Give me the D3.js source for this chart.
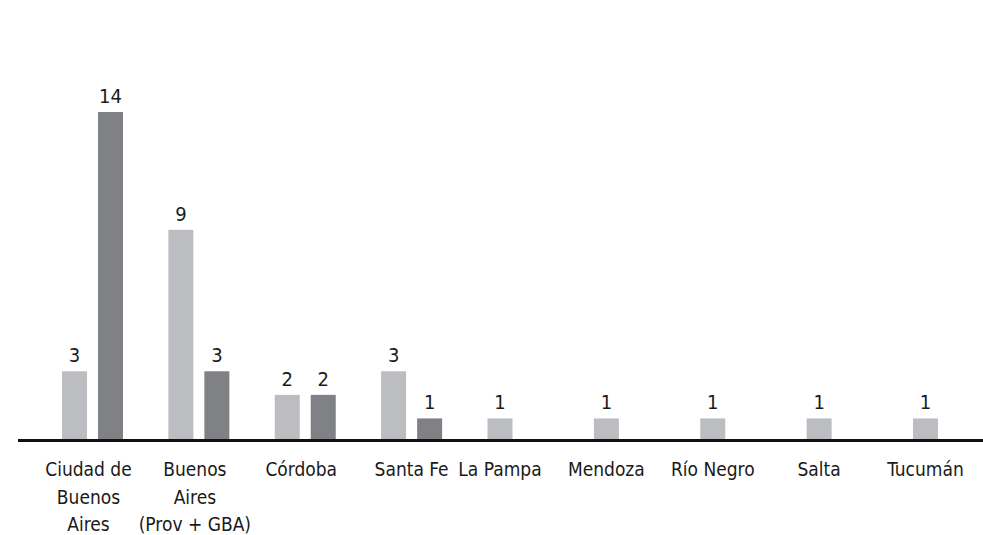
<!DOCTYPE html>
<html>
<head>
<meta charset="utf-8">
<script src="https://cdn.jsdelivr.net/npm/d3@7"></script>
<style>
  body { margin: 0; background: #fff; }
  svg { display: block; }
  text { font-family: "DejaVu Sans Condensed", "DejaVu Sans", sans-serif; font-stretch: condensed; fill: #1a1a1a; }
</style>
</head>
<body>
<svg id="chart" width="983" height="535"></svg>
<script>
// categories (multi-line labels split on "|")
const provincias = ["Ciudad de|Buenos|Aires", "Buenos|Aires|(Prov + GBA)", "Córdoba", "Santa Fe",
  "La Pampa", "Mendoza", "Río Negro", "Salta", "Tucumán"];
const serieClara = [3, 9, 2, 3, 1, 1, 1, 1, 1];
const serieOscura = [14, 3, 2, 1, null, null, null, null, null];
const colores = ["#bcbdc0", "#808184"];

const width = 983, height = 535;
const svg = d3.select("#chart");

const x = d3.scaleBand()
  .domain(d3.range(provincias.length))
  .range([62, 974])
  .paddingInner(0.4267)
  .paddingOuter(0);

const xSub = d3.scaleBand()
  .domain([0, 1])
  .range([0, x.bandwidth()])
  .paddingInner(0.3056);

const y = d3.scaleLinear().domain([0, 14]).range([442, 112]);
const baseY = 440.5;

const rows = provincias.map((p, i) => ({
  i,
  label: p,
  values: [serieClara[i], serieOscura[i]]
}));

const g = svg.append("g");

// bars + value labels
rows.forEach(r => {
  r.values.forEach((v, k) => {
    if (v == null) return;
    const bx = x(r.i) + xSub(k);
    g.append("rect")
      .attr("x", bx)
      .attr("y", y(v))
      .attr("width", xSub.bandwidth())
      .attr("height", y(0) - y(v))
      .attr("fill", colores[k]);
    g.append("text")
      .attr("x", bx + xSub.bandwidth() / 2)
      .attr("y", y(v) - 9)
      .attr("text-anchor", "middle")
      .attr("font-size", 20)
      .text(v);
  });
});

// baseline
svg.append("line")
  .attr("x1", 18).attr("x2", width)
  .attr("y1", baseY).attr("y2", baseY)
  .attr("stroke", "#111")
  .attr("stroke-width", 3);

// category labels, centred under the bars present
rows.forEach(r => {
  const present = r.values.map((v, k) => v == null ? null : x(r.i) + xSub(k) + xSub.bandwidth() / 2)
    .filter(c => c != null);
  const cx = d3.mean(present) - (present.length > 1 && r.i < 3 ? 4 : 0);
  const t = svg.append("text")
    .attr("text-anchor", "middle")
    .attr("font-size", 19);
  r.label.split("|").forEach((line, j) => {
    t.append("tspan")
      .attr("x", cx)
      .attr("y", 476 + j * 27.5)
      .text(line);
  });
});
</script>
</body>
</html>
